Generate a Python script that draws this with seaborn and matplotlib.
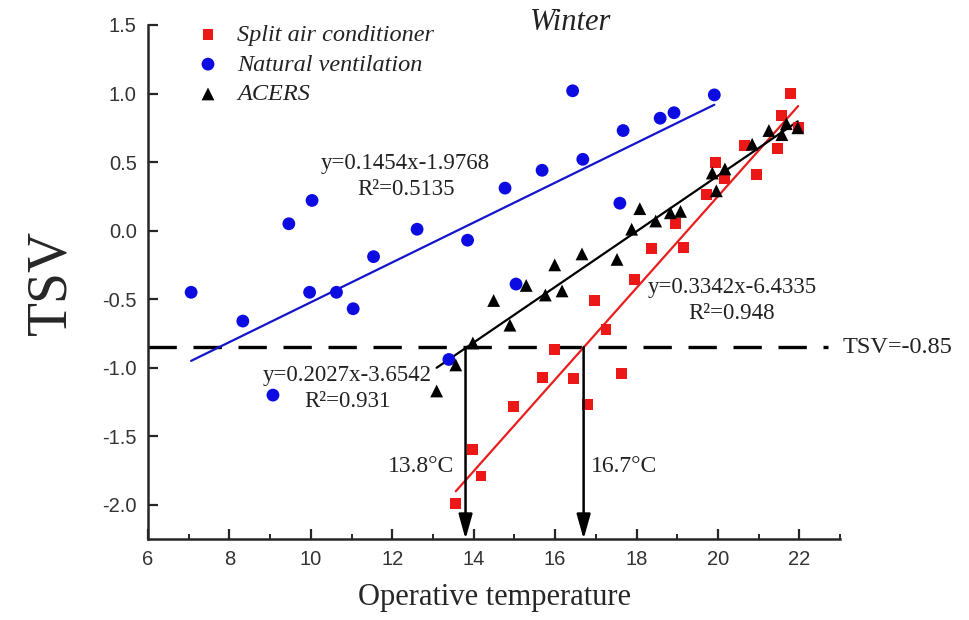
import numpy as np
import pandas as pd
import matplotlib
matplotlib.use("Agg")
import matplotlib.pyplot as plt
from matplotlib.ticker import MultipleLocator
import seaborn as sns

# Operative temperature (°C) and thermal sensation vote for each mode
split_x = [13.56, 13.97, 14.18, 14.98, 15.68, 15.99, 16.44, 16.79, 16.97, 17.25,
           17.64, 17.95, 18.36, 18.96, 19.15, 19.72, 19.95, 20.15, 20.64, 20.95,
           21.46, 21.56, 21.77, 21.97]
split_y = [-1.99, -1.60, -1.79, -1.28, -1.07, -0.87, -1.08, -1.27, -0.51, -0.72,
           -1.04, -0.36, -0.13, 0.05, -0.12, 0.26, 0.50, 0.38, 0.62, 0.41,
           0.60, 0.84, 1.00, 0.75]

natural_x = [7.06, 8.33, 9.46, 10.03, 9.97, 10.63, 11.04, 11.54, 12.61, 13.85,
             9.07, 13.39, 14.77, 15.04, 15.68, 16.43, 16.68, 17.59, 17.67, 18.58,
             18.92, 19.91]
natural_y = [-0.45, -0.66, 0.05, 0.22, -0.45, -0.45, -0.57, -0.19, 0.01, -0.07,
             -1.20, -0.94, 0.31, -0.39, 0.44, 1.02, 0.52, 0.20, 0.73, 0.82,
             0.86, 0.99]

acers_x = [13.09, 13.56, 13.98, 14.49, 14.89, 15.29, 15.76, 16.17, 15.99, 16.66,
           17.52, 17.88, 18.08, 18.47, 18.83, 19.08, 19.86, 19.96, 20.17, 20.84,
           21.25, 21.57, 21.68, 21.96]
acers_y = [-1.17, -0.98, -0.82, -0.51, -0.69, -0.40, -0.47, -0.44, -0.25, -0.17,
           -0.21, 0.01, 0.16, 0.07, 0.13, 0.14, 0.42, 0.29, 0.45, 0.63,
           0.73, 0.70, 0.78, 0.75]

series_names = ["Split air conditioner", "Natural ventilation", "ACERS"]

# Linear fits: slope, intercept, R²
fit_slope = [0.3342, 0.1454, 0.2027]
fit_intercept = [-6.4335, -1.9768, -3.6542]
fit_r2 = ["0.948", "0.5135", "0.931"]

# Comfort threshold and the temperatures where the fits cross it
tsv_limit = -0.85
cross_temps = [13.8, 16.7]

sns.set_style("ticks")
plt.rcParams["font.family"] = ["Liberation Sans", "DejaVu Sans"]
plt.rcParams["xtick.direction"] = "in"
plt.rcParams["ytick.direction"] = "in"
serif = ["Liberation Serif", "DejaVu Serif"]
ink = "#222222"

fig = plt.figure(figsize=(9.69, 6.2), dpi=100)
ax = fig.add_axes([0.1527, 0.1306, 0.7143, 0.8291])

point_colors = ["#ec1717", "#0b0be2", "#000000"]
point_markers = ["s", "o", "^"]
point_sizes = [62, 85, 85]
line_colors = ["#e81e1e", "#1414cc", "#000000"]
xs_all = [split_x, natural_x, acers_x]
ys_all = [split_y, natural_y, acers_y]

# Fit lines over the range of each series
for xs, k, b, lc in zip(xs_all, fit_slope, fit_intercept, line_colors):
    xr = np.array([min(xs), max(xs)])
    ax.plot(xr, k * xr + b, color=lc, lw=1.6, zorder=2)

for name, xs, ys, c, m, s in zip(series_names, xs_all, ys_all,
                                 point_colors, point_markers, point_sizes):
    sns.scatterplot(data=pd.DataFrame({"T": xs, "TSV": ys}), x="T", y="TSV",
                    color=c, marker=m, s=s, linewidth=0, edgecolor="none",
                    label=name, ax=ax, zorder=3)

# Threshold line and crossing arrows
ax.axhline(tsv_limit, xmin=0.0, xmax=(22.7 - 6) / 17, color="black",
           lw=2.4, dashes=(8.5, 5.0), zorder=1)
ax.text(23.05, tsv_limit, f"TSV={tsv_limit}", ha="left", va="center",
        fontsize=17.5, family=serif, color=ink, clip_on=False)
for t in cross_temps:
    ax.annotate("", xy=(t, -2.25), xytext=(t, tsv_limit),
                arrowprops=dict(arrowstyle="-|>,head_length=1.5,head_width=0.42",
                                color="black", lw=1.8, shrinkA=0, shrinkB=0),
                zorder=4)
ax.text(13.52, -1.72, f"{cross_temps[0]}°C", ha="right", va="center",
        fontsize=17, family=serif, color=ink)
ax.text(16.88, -1.72, f"{cross_temps[1]}°C", ha="left", va="center",
        fontsize=17, family=serif, color=ink)

# Fit equations
eq_pos = [(20.34, -0.415), (12.33, 0.49), (10.9, -1.06)]
for (ex, ey), k, b, r2 in zip(eq_pos, fit_slope, fit_intercept, fit_r2):
    ax.text(ex, ey, f"y={k}x{b}", ha="center", va="center",
            fontsize=16.5, family=serif, color=ink)
    ax.text(ex, ey - 0.19, f"R²={r2}", ha="center", va="center",
            fontsize=16.5, family=serif, color=ink)

ax.text(16.38, 1.52, "Winter", ha="center", va="center", fontsize=22,
        family=serif, style="italic", color=ink, clip_on=False)

ax.set_xlim(6, 23)
ax.set_ylim(-2.25, 1.5)
ax.xaxis.set_major_locator(MultipleLocator(2))
ax.xaxis.set_minor_locator(MultipleLocator(1))
yt = np.arange(-2.0, 1.51, 0.5)
ax.set_yticks(yt)
ax.set_yticklabels([f"{v:.1f}" for v in yt])
ax.tick_params(axis="both", which="major", direction="in", length=7.5, width=1.6,
               labelsize=14.5, labelcolor="#333333", pad=8)
ax.tick_params(axis="x", which="minor", direction="in", length=3.5, width=1.4)

sns.despine(ax=ax)
for side in ["left", "bottom"]:
    ax.spines[side].set_linewidth(1.8)

ax.set_xlabel("Operative temperature", fontsize=22, family=serif, labelpad=10)
ax.set_ylabel("TSV", fontsize=40, family=serif, labelpad=18)

leg = ax.legend(loc="upper left", bbox_to_anchor=(0.02, 1.045),
                frameon=False, handletextpad=0.2, labelspacing=0.32,
                prop={"family": serif, "style": "italic", "size": 17.5})
for txt in leg.get_texts():
    txt.set_color(ink)

fig.savefig("out.png", dpi=100, facecolor="white")
